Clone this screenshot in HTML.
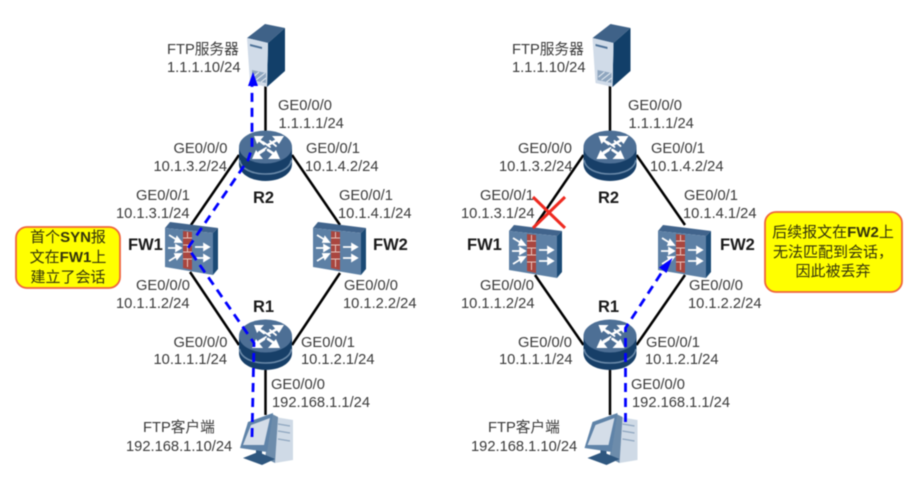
<!DOCTYPE html>
<html>
<head>
<meta charset="utf-8">
<style>
html,body{margin:0;padding:0;background:#fff;width:916px;height:482px;overflow:hidden}
svg{display:block;filter:blur(0.5px)}
text{font-family:"Liberation Sans","Noto Sans CJK SC",sans-serif;font-size:14.7px;fill:#3a3a3a}
.b{font-weight:bold;font-size:16.5px;fill:#1a1a1a}
.c{font-size:15px;fill:#33330c;text-anchor:middle}
.c tspan{font-weight:bold}
</style>
</head>
<body>
<svg width="916" height="482" viewBox="0 0 916 482" xmlns="http://www.w3.org/2000/svg">
<defs>
<symbol id="server" overflow="visible">
<polygon points="247,38 265,24 285,28 268,43" fill="#3f6288"/>
<polygon points="268,43 285,28 285,71 267,87" fill="#123f69"/>
<polygon points="247,38 268,43 267,87 250,83" fill="#d0dbe8"/>
<polygon points="250,44 262,47 262,49 250,46" fill="#4d7197"/>
<polygon points="252,70 266,73 266,83 252,80" fill="#8fa6bf"/>
<path d="M253,77l6,-5M256,80l9,-7M261,82l5,-4" stroke="#e8eef4" stroke-width="1"/>
</symbol>
<symbol id="router" overflow="visible">
<path d="M239,147V164C239,174 251,181 265.5,181C280,181 292,174 292,164V147Z" fill="#173f68"/>
<path d="M239.5,160C241,169 252,174 265.5,174C279,174 290,169 291.5,160" fill="none" stroke="#6a89a8" stroke-width="1.6"/>
<ellipse cx="265.5" cy="147" rx="26.5" ry="16.5" fill="#4d6f95"/>
<g stroke="#fff" stroke-width="2.6" fill="#fff" stroke-linecap="round">
<path d="M268,145L277,140" fill="none"/><polygon points="284,136 272,136 279,144" stroke="none"/>
<path d="M264,144L259,140" fill="none"/><polygon points="254,136 264,136 257,144" stroke="none"/>
<path d="M264,150L258,154" fill="none"/><polygon points="252,159 263,159 256,150" stroke="none"/>
<path d="M268,150L274,154" fill="none"/><polygon points="280,159 268,159 276,150" stroke="none"/>
<path d="M263,142L270,147M270,141L276,146M259,152L266,148" fill="none" stroke-width="1.8"/>
</g>
</symbol>
<symbol id="fw" overflow="visible">
<polygon points="165,228 170,222 218,228 213,233" fill="#41648c"/>
<polygon points="213,233 218,228 218,269 213,275" fill="#1b4a75"/>
<polygon points="165,228 213,233 213,275 165,267" fill="#5d80a5"/>
<polygon points="183,231 192,232 192,270 183,268" fill="#a9463f"/>
<path d="M183,238h9M183,245h9M183,252h9M183,259h9M187.500,232v6M187.500,245v7M187.500,259v8" stroke="#e6c4bc" stroke-width="1"/>
<g stroke="#fff" stroke-width="1.7" fill="#fff">
<path d="M169,235L177,240"/><polygon points="181,242 175,242 177,237"/>
<path d="M168,248H177"/><polygon points="181,248 176,245 176,251"/>
<path d="M169,261L177,256"/><polygon points="181,254 175,254 177,259"/>
<path d="M195,247H205"/><polygon points="209,247 204,244 204,250"/>
<path d="M195,258H205"/><polygon points="209,258 204,255 204,261"/>
</g>
</symbol>
<symbol id="pc" overflow="visible">
<polygon points="275,417 293,420 293,460 275,463" fill="#cfdae6"/>
<path d="M278,424l12,2M278,431l12,2M278,439l12,2" stroke="#8ea6bf" stroke-width="1.2"/>
<polygon points="272,414 278,417 275,463 265,458" fill="#6d8cab"/>
<polygon points="243,458 258,452 275,459 262,465" fill="#2f577f"/>
<rect x="256" y="448" width="6" height="11" fill="#2f577f"/>
<polygon points="248,422 273,413 267,452 240,448" fill="#5f83a8"/>
<polygon points="251,425 270,418 264,445 243,445" fill="#d4dde8"/>
</symbol>
</defs>

<!-- LEFT wires -->
<g stroke="#000" stroke-width="2.5" fill="none">
<path d="M265.500,84V131"/><path d="M239,155L191,225"/><path d="M292,155L340,225"/>
<path d="M190,272L239,345"/><path d="M340,273L292,345"/><path d="M265.500,370V415"/>
</g>
<use href="#server"/><use href="#router"/><use href="#router" y="189"/><use href="#fw"/><use href="#fw" x="148"/><use href="#pc"/>
<g fill="none" stroke="#0000ff" stroke-width="2.8" stroke-dasharray="9 6">
<path d="M252,437L254,343L188,248L248,160L252,148V86"/>
</g>
<polygon points="253,72 248,86 258,86" fill="#0000ff"/>

<!-- RIGHT wires -->
<g stroke="#000" stroke-width="2.5" fill="none">
<path d="M610,84V131"/><path d="M583.500,155L535,226"/><path d="M636.500,155L685,225"/>
<path d="M535,275L583.500,345"/><path d="M685,275L636.500,345"/><path d="M610,370V415"/>
</g>
<use href="#server" x="345.5"/><use href="#router" x="344.5"/><use href="#router" x="344.5" y="189"/><use href="#fw" x="344" y="3"/><use href="#fw" x="493" y="3"/><use href="#pc" x="344.5"/>
<g fill="none" stroke="#0000ff" stroke-width="2.8" stroke-dasharray="9 6">
<path d="M625.500,422V328L662,272"/>
</g>
<polygon points="672.500,258 659,267.500 666.500,273" fill="#0000ff"/>
<g stroke="#ee2a20" stroke-width="3"><path d="M533,197L565,228M565,197L533,228"/></g>

<!-- Callouts -->
<rect x="16" y="227" width="104" height="61" rx="11" fill="#ffff00" stroke="#f0643c" stroke-width="1.8"/>
<text class="c" x="68" y="242">首个<tspan>SYN</tspan>报</text>
<text class="c" x="68" y="262">文在<tspan>FW1</tspan>上</text>
<text class="c" x="68" y="282">建立了会话</text>
<rect x="765" y="212" width="137" height="80" rx="11" fill="#ffff00" stroke="#f0643c" stroke-width="1.8"/>
<text class="c" x="833" y="237">后续报文在<tspan>FW2</tspan>上</text>
<text class="c" x="833" y="257">无法匹配到会话，</text>
<text class="c" x="833" y="276">因此被丢弃</text>

<!-- LEFT labels -->
<text x="167" y="54">FTP服务器</text><text x="167" y="72">1.1.1.10/24</text>
<text x="278" y="110">GE0/0/0</text><text x="278.5" y="128">1.1.1.1/24</text>
<text x="173.5" y="153">GE0/0/0</text><text x="153.5" y="171">10.1.3.2/24</text>
<text x="306" y="153">GE0/0/1</text><text x="305" y="171">10.1.4.2/24</text>
<text x="136" y="200">GE0/0/1</text><text x="116" y="218">10.1.3.1/24</text>
<text x="339" y="200">GE0/0/1</text><text x="338" y="218">10.1.4.1/24</text>
<text class="b" x="253" y="203">R2</text>
<text class="b" x="128" y="250">FW1</text><text class="b" x="373" y="250">FW2</text>
<text x="136" y="290">GE0/0/0</text><text x="116" y="308">10.1.1.2/24</text>
<text x="344" y="290">GE0/0/0</text><text x="343" y="308">10.1.2.2/24</text>
<text class="b" x="253" y="312">R1</text>
<text x="173.5" y="347">GE0/0/0</text><text x="153.5" y="364">10.1.1.1/24</text>
<text x="301" y="347">GE0/0/1</text><text x="301" y="364">10.1.2.1/24</text>
<text x="271" y="389">GE0/0/0</text><text x="272" y="407">192.168.1.1/24</text>
<text x="143" y="432">FTP客户端</text><text x="126" y="451">192.168.1.10/24</text>

<!-- RIGHT labels -->
<text x="512" y="54">FTP服务器</text><text x="512" y="72">1.1.1.10/24</text>
<text x="628" y="110">GE0/0/0</text><text x="628.5" y="128">1.1.1.1/24</text>
<text x="518" y="153">GE0/0/0</text><text x="499" y="171">10.1.3.2/24</text>
<text x="651" y="153">GE0/0/1</text><text x="650" y="171">10.1.4.2/24</text>
<text x="480" y="200">GE0/0/1</text><text x="461" y="218">10.1.3.1/24</text>
<text x="684" y="200">GE0/0/1</text><text x="683" y="218">10.1.4.1/24</text>
<text class="b" x="598" y="203">R2</text>
<text class="b" x="467" y="250">FW1</text><text class="b" x="720" y="250">FW2</text>
<text x="689" y="290">GE0/0/0</text><text x="688" y="308">10.1.2.2/24</text>
<text x="480" y="290">GE0/0/0</text><text x="461" y="308">10.1.1.2/24</text>
<text class="b" x="598" y="312">R1</text>
<text x="518" y="347">GE0/0/0</text><text x="499" y="364">10.1.1.1/24</text>
<text x="646" y="347">GE0/0/1</text><text x="645" y="364">10.1.2.1/24</text>
<text x="631" y="389">GE0/0/0</text><text x="632" y="407">192.168.1.1/24</text>
<text x="488" y="432">FTP客户端</text><text x="471" y="451">192.168.1.10/24</text>
</svg>
</body>
</html>
